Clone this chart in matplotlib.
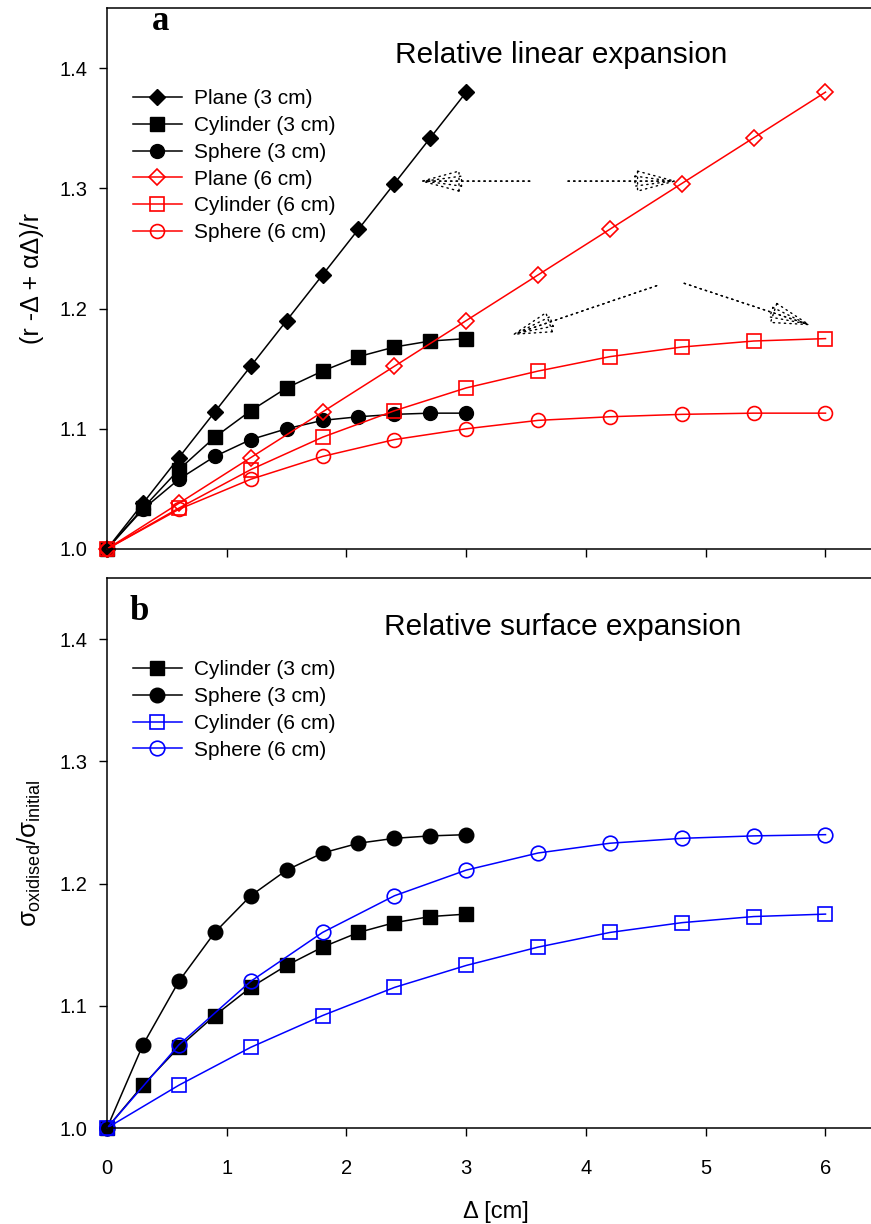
import matplotlib
matplotlib.use("Agg")
import matplotlib.pyplot as plt
from matplotlib.patches import FancyArrowPatch

plt.rcParams['font.family'] = ['Liberation Sans', 'DejaVu Sans']
plt.rcParams['mathtext.fontset'] = 'custom'
plt.rcParams['mathtext.rm'] = 'Liberation Sans'
plt.rcParams['mathtext.it'] = 'Liberation Sans'

# ---------------- data ----------------
x_3cm = [0.0, 0.3, 0.6, 0.9, 1.2, 1.5, 1.8, 2.1, 2.4, 2.7, 3.0]
x_6cm = [0.0, 0.6, 1.2, 1.8, 2.4, 3.0, 3.6, 4.2, 4.8, 5.4, 6.0]

plane_lin = [1.000, 1.038, 1.076, 1.114, 1.152, 1.190, 1.228, 1.266, 1.304, 1.342, 1.380]
cylinder_lin = [1.000, 1.034, 1.066, 1.093, 1.115, 1.134, 1.148, 1.160, 1.168, 1.173, 1.175]
sphere_lin = [1.000, 1.033, 1.058, 1.077, 1.091, 1.100, 1.107, 1.110, 1.112, 1.113, 1.113]

cylinder_surf = [1.000, 1.035, 1.066, 1.092, 1.115, 1.133, 1.148, 1.160, 1.168, 1.173, 1.175]
sphere_surf = [1.000, 1.068, 1.120, 1.160, 1.190, 1.211, 1.225, 1.233, 1.237, 1.239, 1.240]

labels_top = ['Plane (3 cm)', 'Cylinder (3 cm)', 'Sphere (3 cm)',
              'Plane (6 cm)', 'Cylinder (6 cm)', 'Sphere (6 cm)']
labels_bot = ['Cylinder (3 cm)', 'Sphere (3 cm)', 'Cylinder (6 cm)', 'Sphere (6 cm)']
yticks = [1.0, 1.1, 1.2, 1.3, 1.4]
xticks = [0, 1, 2, 3, 4, 5, 6]

W, H = 871, 1224
fig = plt.figure(figsize=(W / 100, H / 100), dpi=100)

def ax_rect(l, t, r, b):
    return [l / W, 1 - b / H, (r - l) / W, (b - t) / H]

ax1 = fig.add_axes(ax_rect(107, 8, 871, 549))
ax2 = fig.add_axes(ax_rect(107, 578, 871, 1128))

lw = 1.1
for ax in (ax1, ax2):
    ax.set_xlim(0, 6.38)
    ax.set_ylim(1.0, 1.45)
    ax.spines['right'].set_visible(False)
    for s in ('left', 'bottom', 'top'):
        ax.spines[s].set_linewidth(1.1)
    ax.set_xticks(xticks)
    ax.set_yticks(yticks)
    ax.yaxis.set_major_formatter(matplotlib.ticker.FormatStrFormatter('%.1f'))
    ax.tick_params(axis='both', direction='out', length=6, width=1.0,
                   labelsize=14.5, top=False, right=False)
    ax.tick_params(axis='y', pad=8)
    ax.tick_params(axis='x', pad=16)

ax1.tick_params(axis='x', labelbottom=False)

# ---------------- panel a ----------------
common = dict(lw=lw, clip_on=False)
ax1.plot(x_3cm, plane_lin, color='black', marker='D', ms=8.2, label=labels_top[0], **common)
ax1.plot(x_3cm, cylinder_lin, color='black', marker='s', ms=9.5, label=labels_top[1], **common)
ax1.plot(x_3cm, sphere_lin, color='black', marker='o', ms=10, label=labels_top[2], **common)
ax1.plot(x_6cm, plane_lin, color='red', marker='D', ms=8.2, mfc='none', mew=1.2,
         label=labels_top[3], **common)
ax1.plot(x_6cm, cylinder_lin, color='red', marker='s', ms=9.5, mfc='none', mew=1.2,
         label=labels_top[4], **common)
ax1.plot(x_6cm, sphere_lin, color='red', marker='o', ms=10, mfc='none', mew=1.2,
         label=labels_top[5], **common)

leg1 = ax1.legend(loc='upper left', bbox_to_anchor=(26 / 764, 1 - 81.5 / 541),
                  frameon=False, fontsize=15, handlelength=2.35, handletextpad=0.6,
                  labelspacing=0.37, borderaxespad=0, borderpad=0)

ax1.text(561, H - 63, 'Relative linear expansion', transform=None,
         fontsize=21.4, ha='center', va='baseline')
ax1.text(161, H - 30, 'a', transform=None, fontsize=25, fontweight='bold',
         family=['Liberation Serif', 'DejaVu Serif'], ha='center', va='baseline')

ax1.set_ylabel('(r -Δ + αΔ)/r', fontsize=18)
ax1.yaxis.set_label_coords((44 - 107) / 764, 0.5)

# dotted arrows (hollow heads)
arrow_specs = [((3.53, 1.306), (2.61, 1.306)),
               ((3.85, 1.306), (4.76, 1.306)),
               ((4.59, 1.219), (3.38, 1.178)),
               ((4.82, 1.221), (5.88, 1.186))]
for tail, tip in arrow_specs:
    for hw in (7.2, 3.6):
        arr = FancyArrowPatch(tail, tip,
                              arrowstyle='-|>,head_length=26.5,head_width=%g' % hw,
                              linestyle=(0, (1, 3)), lw=1.0, edgecolor='black',
                              facecolor='none', mutation_scale=1, shrinkA=0, shrinkB=0)
        ax1.add_patch(arr)

# ---------------- panel b ----------------
ax2.plot(x_3cm, cylinder_surf, color='black', marker='s', ms=9.5, label=labels_bot[0], **common)
ax2.plot(x_3cm, sphere_surf, color='black', marker='o', ms=10.5, label=labels_bot[1], **common)
ax2.plot(x_6cm, cylinder_surf, color='blue', marker='s', ms=9.5, mfc='none', mew=1.2,
         label=labels_bot[2], **common)
ax2.plot(x_6cm, sphere_surf, color='blue', marker='o', ms=10.5, mfc='none', mew=1.2,
         label=labels_bot[3], **common)

leg2 = ax2.legend(loc='upper left', bbox_to_anchor=(26 / 764, 1 - 82.5 / 550),
                  frameon=False, fontsize=15, handlelength=2.35, handletextpad=0.6,
                  labelspacing=0.37, borderaxespad=0, borderpad=0)

ax2.text(563, H - 635, 'Relative surface expansion', transform=None,
         fontsize=21.4, ha='center', va='baseline')
ax2.text(139, H - 620, 'b', transform=None, fontsize=25, fontweight='bold',
         family=['Liberation Serif', 'DejaVu Serif'], ha='center', va='baseline')

ax2.set_ylabel(r'$\sigma_{\rm oxidised}/\sigma_{\rm initial}$', fontsize=18.5)
ax2.yaxis.set_label_coords((43 - 107) / 764, 0.5)
ax2.set_xlabel('Δ [cm]', fontsize=17, va='baseline')
ax2.xaxis.set_label_coords((496 - 107) / 764, -(1218 - 1128) / 550)

fig.savefig('out.png', dpi=100)
